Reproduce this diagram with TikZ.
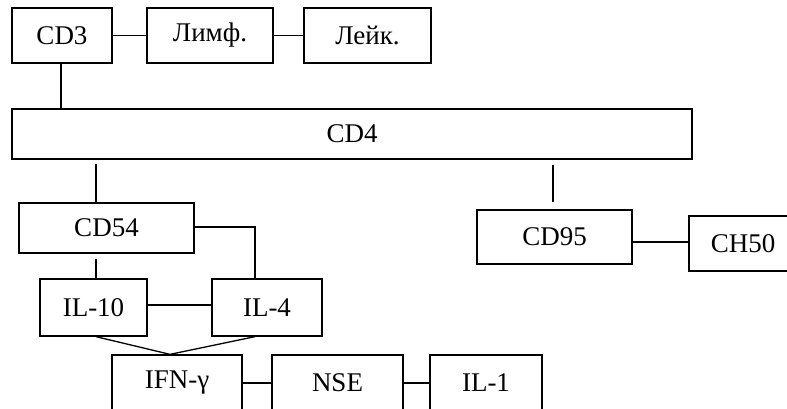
\documentclass[tikz,border=0pt]{standalone}
\usepackage{fontspec}
\setmainfont{Liberation Serif}
\begin{document}
\begin{tikzpicture}[x=1pt,y=-1pt,
  box/.style={draw=black, line width=1.3pt, fill=white, inner sep=0pt, minimum height=55pt, font=\fontsize{27}{32}\selectfont},
  link/.style={draw=black, line width=1.3pt}]
\clip (0,0) rectangle (787,409);
\node [box, minimum width=100pt] (cd3) at (62,35.5) {CD3};
\node [box, minimum width=126pt] (limf) at (210,35.5) {Лимф.};
\node [box, minimum width=127pt] (leik) at (367.5,35.5) {Лейк.};
\node [box, minimum width=680pt, minimum height=50pt] (cd4) at (352,134) {CD4};
\node [box, minimum width=175pt, minimum height=50pt] (cd54) at (106.5,228) {CD54};
\node [box, minimum width=155pt, minimum height=54pt] (cd95) at (554.5,237) {CD95};
\node [box, minimum width=108pt] (ch50) at (743,243.5) {CH50};
\node [box, minimum width=107pt, minimum height=57pt] (il10) at (93.5,307.5) {IL-10};
\node [box, minimum width=110pt, minimum height=57pt] (il4) at (267,307.5) {IL-4};
\node [box, minimum width=130pt, minimum height=56pt] (ifn) at (177,383) {IFN-γ};
\node [box, minimum width=131pt, minimum height=56pt] (nse) at (337.5,383) {NSE};
\node [box, minimum width=112pt, minimum height=56pt] (il1) at (486,383) {IL-1};
% points where the links meet the boxes
\coordinate (left) at (96,0);
\coordinate (mid) at (170,0);
\coordinate (right) at (255,0);
\coordinate (far) at (553,0);
\draw [link] (cd3) -- (limf);
\draw [link] (limf) -- (leik);
\draw [link] (cd3.south -| 61,0) -- (cd4.north -| 61,0);
\draw [link, shorten <=4pt] (cd4.south -| left) -- (cd54.north -| left);
\draw [link, shorten <=5pt, shorten >=7pt] (cd4.south -| far) -- (cd95.north -| far);
\draw [link] (cd95.east |- 0,242) -- (ch50.west |- 0,242);
\draw [link, shorten <=5pt] (cd54.south -| left) -- (il10.north -| left);
\draw [link] (cd54.east |- 0,227) -| (il4.north -| right);
\draw [link] (il10.east |- 0,305) -- (il4.west |- 0,305);
\draw [link] (il10.south -| left) -- (ifn.north -| mid);
\draw [link] (il4.south -| right) -- (ifn.north -| mid);
\draw [link] (ifn) -- (nse);
\draw [link] (nse) -- (il1);
\end{tikzpicture}
\end{document}
